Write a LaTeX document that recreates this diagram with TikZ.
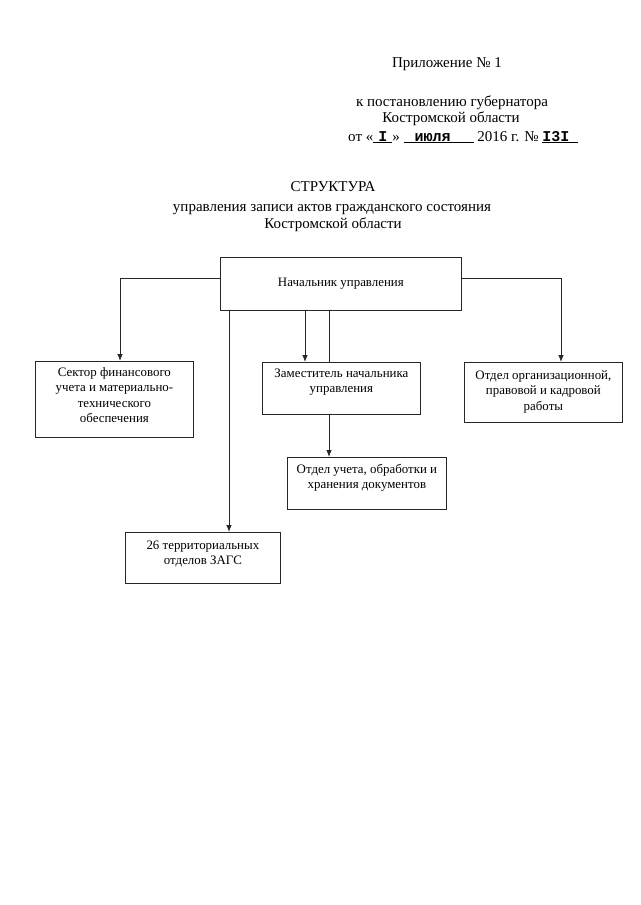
\documentclass[tikz,border=0pt]{standalone}
\usepackage{fontspec}
\setmainfont{Liberation Serif}
\newfontfamily\stampfont{Liberation Mono}
\usetikzlibrary{arrows.meta}
\newcommand\bxt[4]{\parbox[c][#2pt][t]{#1pt}{\centering\rule{0pt}{#3pt}#4\par}}
\newcommand\bxc[3]{\parbox[c][#2pt][c]{#1pt}{\centering #3\par}}
\begin{document}
\begin{tikzpicture}[x=1pt,y=-1pt,
  box/.style={draw=black!85, line width=0.8pt, inner sep=0pt, anchor=north west, font=\fontsize{12.9}{15.5}\selectfont},
  conn/.style={draw=black!85, line width=0.8pt},
  arr/.style={conn,-{Latex[length=7pt,width=5.5pt]}},
  hdr/.style={font=\fontsize{15}{17}\selectfont, inner sep=0pt, anchor=base}]
\useasboundingbox (0,0) rectangle (640,905);
\fill[white] (0,0) rectangle (640,905);
% header
\node[hdr] (pril) at (447,67) {Приложение № 1};
\node[hdr] (post) at (452,106) {к постановлению губернатора};
\node[hdr] (kostr) at (451,122) {Костромской области};
\node[hdr, anchor=base west] (ot) at (348,141) {от «\underline{\makebox[19pt]{\stampfont\bfseries I}}» \underline{\makebox[70pt][l]{\hspace{11pt}\stampfont\bfseries июля}} 2016 г. № \underline{\makebox[36pt][l]{\stampfont\bfseries I3I}}};
% title
\node[hdr] (t1) at (333,191) {СТРУКТУРА};
\node[hdr] (t2) at (332,211) {управления записи актов гражданского состояния};
\node[hdr] (t3) at (333,228) {Костромской области};
% boxes
\node[box] (chief) at (220,257) {\bxc{241}{53}{Начальник управления}};
\node[box] (sector) at (35,361) {\bxt{158}{76}{15}{Сектор финансового\\учета и материально-\\технического\\обеспечения}};
\node[box] (deputy) at (262,362) {\bxt{158}{52}{15}{Заместитель начальника\\управления}};
\node[box] (org) at (464,362) {\bxt{158}{60}{17}{Отдел организационной,\\правовой и кадровой\\работы}};
\node[box] (uchet) at (287,457) {\bxt{159}{52}{16}{Отдел учета, обработки и\\хранения документов}};
\node[box] (zags) at (125,532) {\bxt{155}{51}{17}{26 территориальных\\отделов ЗАГС}};
% connector x positions
\coordinate (xl) at (120,0);
\coordinate (xr) at (561,0);
\coordinate (xz) at (229,0);
\coordinate (xd) at (305,0);
\coordinate (xu) at (329,0);
\coordinate (yh) at (0,278);
% connectors
\draw[arr] (chief.west |- yh) -| (sector.north -| xl);
\draw[arr] (chief.east |- yh) -| (org.north -| xr);
\draw[arr] (chief.south -| xz) -- (zags.north -| xz);
\draw[arr] (chief.south -| xd) -- (deputy.north -| xd);
\draw[conn] (chief.south -| xu) -- (deputy.north -| xu);
\draw[arr] (deputy.south -| xu) -- (uchet.north -| xu);
\end{tikzpicture}
\end{document}
